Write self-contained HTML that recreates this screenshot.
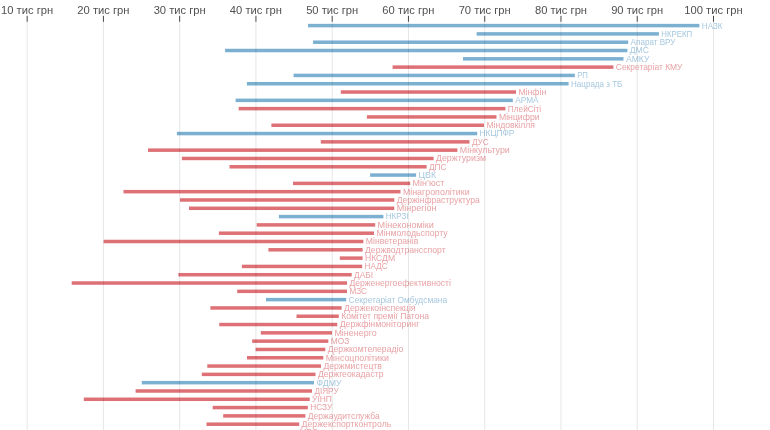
<!DOCTYPE html><html><head><meta charset="utf-8"><style>html,body{margin:0;padding:0;background:#fff;width:770px;height:430px;overflow:hidden}svg{display:block;will-change:transform}text{font-family:"Liberation Sans",sans-serif}</style></head><body>
<svg width="770" height="430" viewBox="0 0 770 430">
<rect x="308.0" y="23.85" width="391.4" height="3.5" fill="#7cb0d1"/>
<text x="701.8" y="28.50" font-size="9.2" textLength="20.7" lengthAdjust="spacingAndGlyphs" fill="#a6c8df">НАЗК</text>
<rect x="476.6" y="32.15" width="182.3" height="3.5" fill="#7cb0d1"/>
<text x="661.3" y="36.80" font-size="9.2" textLength="30.9" lengthAdjust="spacingAndGlyphs" fill="#a6c8df">НКРЕКП</text>
<rect x="313.1" y="40.46" width="315.1" height="3.5" fill="#7cb0d1"/>
<text x="630.6" y="45.11" font-size="9.2" textLength="44.9" lengthAdjust="spacingAndGlyphs" fill="#a6c8df">Апарат ВРУ</text>
<rect x="225.1" y="48.76" width="402.3" height="3.5" fill="#7cb0d1"/>
<text x="629.8" y="53.41" font-size="9.2" textLength="19.2" lengthAdjust="spacingAndGlyphs" fill="#a6c8df">ДМС</text>
<rect x="463.0" y="57.07" width="160.5" height="3.5" fill="#7cb0d1"/>
<text x="625.9" y="61.72" font-size="9.2" textLength="23.5" lengthAdjust="spacingAndGlyphs" fill="#a6c8df">АМКУ</text>
<rect x="392.6" y="65.37" width="220.8" height="3.5" fill="#de7176"/>
<text x="615.8" y="70.02" font-size="9.2" textLength="66.7" lengthAdjust="spacingAndGlyphs" fill="#e8a2a5">Секретаріат КМУ</text>
<rect x="293.6" y="73.67" width="281.2" height="3.5" fill="#7cb0d1"/>
<text x="577.2" y="78.32" font-size="9.2" textLength="10.7" lengthAdjust="spacingAndGlyphs" fill="#a6c8df">РП</text>
<rect x="246.9" y="81.98" width="321.7" height="3.5" fill="#7cb0d1"/>
<text x="571.0" y="86.63" font-size="9.2" textLength="51.4" lengthAdjust="spacingAndGlyphs" fill="#a6c8df">Нацрада з ТБ</text>
<rect x="340.8" y="90.28" width="175.2" height="3.5" fill="#de7176"/>
<text x="518.4" y="94.93" font-size="9.2" textLength="27.8" lengthAdjust="spacingAndGlyphs" fill="#e8a2a5">Мінфін</text>
<rect x="235.6" y="98.59" width="277.2" height="3.5" fill="#7cb0d1"/>
<text x="515.2" y="103.24" font-size="9.2" textLength="23.4" lengthAdjust="spacingAndGlyphs" fill="#a6c8df">АРМА</text>
<rect x="238.7" y="106.89" width="266.7" height="3.5" fill="#de7176"/>
<text x="507.8" y="111.54" font-size="9.2" textLength="33.4" lengthAdjust="spacingAndGlyphs" fill="#e8a2a5">ПлейСіті</text>
<rect x="366.9" y="115.19" width="129.6" height="3.5" fill="#de7176"/>
<text x="498.9" y="119.84" font-size="9.2" textLength="40.7" lengthAdjust="spacingAndGlyphs" fill="#e8a2a5">Мінцифри</text>
<rect x="271.4" y="123.50" width="212.6" height="3.5" fill="#de7176"/>
<text x="486.4" y="128.15" font-size="9.2" textLength="48.5" lengthAdjust="spacingAndGlyphs" fill="#e8a2a5">Міндовкілля</text>
<rect x="176.9" y="131.80" width="300.3" height="3.5" fill="#7cb0d1"/>
<text x="479.6" y="136.45" font-size="9.2" textLength="34.8" lengthAdjust="spacingAndGlyphs" fill="#a6c8df">НКЦПФР</text>
<rect x="320.8" y="140.11" width="148.7" height="3.5" fill="#de7176"/>
<text x="471.9" y="144.76" font-size="9.2" textLength="16.9" lengthAdjust="spacingAndGlyphs" fill="#e8a2a5">ДУС</text>
<rect x="148.0" y="148.41" width="309.4" height="3.5" fill="#de7176"/>
<text x="459.8" y="153.06" font-size="9.2" textLength="50.0" lengthAdjust="spacingAndGlyphs" fill="#e8a2a5">Мінкультури</text>
<rect x="181.9" y="156.71" width="251.7" height="3.5" fill="#de7176"/>
<text x="436.0" y="161.36" font-size="9.2" textLength="50.0" lengthAdjust="spacingAndGlyphs" fill="#e8a2a5">Держтуризм</text>
<rect x="229.5" y="165.02" width="197.1" height="3.5" fill="#de7176"/>
<text x="429.0" y="169.67" font-size="9.2" textLength="17.6" lengthAdjust="spacingAndGlyphs" fill="#e8a2a5">ДПС</text>
<rect x="370.1" y="173.32" width="46.0" height="3.5" fill="#7cb0d1"/>
<text x="418.5" y="177.97" font-size="9.2" textLength="17.6" lengthAdjust="spacingAndGlyphs" fill="#a6c8df">ЦВК</text>
<rect x="293.0" y="181.63" width="117.2" height="3.5" fill="#de7176"/>
<text x="412.6" y="186.28" font-size="9.2" textLength="31.7" lengthAdjust="spacingAndGlyphs" fill="#e8a2a5">Мін’юст</text>
<rect x="123.5" y="189.93" width="277.0" height="3.5" fill="#de7176"/>
<text x="402.9" y="194.58" font-size="9.2" textLength="66.7" lengthAdjust="spacingAndGlyphs" fill="#e8a2a5">Мінагрополітики</text>
<rect x="180.0" y="198.23" width="214.3" height="3.5" fill="#de7176"/>
<text x="396.7" y="202.88" font-size="9.2" textLength="83.1" lengthAdjust="spacingAndGlyphs" fill="#e8a2a5">Держінфраструктура</text>
<rect x="189.0" y="206.54" width="205.3" height="3.5" fill="#de7176"/>
<text x="396.7" y="211.19" font-size="9.2" textLength="39.8" lengthAdjust="spacingAndGlyphs" fill="#e8a2a5">Мінрегіон</text>
<rect x="278.9" y="214.84" width="104.5" height="3.5" fill="#7cb0d1"/>
<text x="385.8" y="219.49" font-size="9.2" textLength="22.7" lengthAdjust="spacingAndGlyphs" fill="#a6c8df">НКРЗІ</text>
<rect x="256.7" y="223.15" width="118.5" height="3.5" fill="#de7176"/>
<text x="377.6" y="227.80" font-size="9.2" textLength="56.3" lengthAdjust="spacingAndGlyphs" fill="#e8a2a5">Мінекономіки</text>
<rect x="218.9" y="231.45" width="155.1" height="3.5" fill="#de7176"/>
<text x="376.4" y="236.10" font-size="9.2" textLength="71.3" lengthAdjust="spacingAndGlyphs" fill="#e8a2a5">Мінмолодьспорту</text>
<rect x="103.6" y="239.75" width="259.8" height="3.5" fill="#de7176"/>
<text x="365.8" y="244.40" font-size="9.2" textLength="52.5" lengthAdjust="spacingAndGlyphs" fill="#e8a2a5">Мінветеранів</text>
<rect x="268.4" y="248.06" width="94.2" height="3.5" fill="#de7176"/>
<text x="365.0" y="252.71" font-size="9.2" textLength="80.6" lengthAdjust="spacingAndGlyphs" fill="#e8a2a5">Держводтрансспорт</text>
<rect x="339.8" y="256.36" width="22.8" height="3.5" fill="#de7176"/>
<text x="365.0" y="261.01" font-size="9.2" textLength="30.1" lengthAdjust="spacingAndGlyphs" fill="#e8a2a5">НКСДМ</text>
<rect x="241.9" y="264.67" width="120.3" height="3.5" fill="#de7176"/>
<text x="364.6" y="269.32" font-size="9.2" textLength="22.9" lengthAdjust="spacingAndGlyphs" fill="#e8a2a5">НАДС</text>
<rect x="178.4" y="272.97" width="173.3" height="3.5" fill="#de7176"/>
<text x="354.1" y="277.62" font-size="9.2" textLength="18.9" lengthAdjust="spacingAndGlyphs" fill="#e8a2a5">ДАБІ</text>
<rect x="71.7" y="281.27" width="275.3" height="3.5" fill="#de7176"/>
<text x="349.4" y="285.92" font-size="9.2" textLength="101.5" lengthAdjust="spacingAndGlyphs" fill="#e8a2a5">Держенергоефективності</text>
<rect x="237.2" y="289.58" width="109.8" height="3.5" fill="#de7176"/>
<text x="349.4" y="294.23" font-size="9.2" textLength="17.5" lengthAdjust="spacingAndGlyphs" fill="#e8a2a5">МЗС</text>
<rect x="266.0" y="297.88" width="80.2" height="3.5" fill="#7cb0d1"/>
<text x="348.6" y="302.53" font-size="9.2" textLength="98.5" lengthAdjust="spacingAndGlyphs" fill="#a6c8df">Секретаріат Омбудсмана</text>
<rect x="210.4" y="306.19" width="131.2" height="3.5" fill="#de7176"/>
<text x="344.0" y="310.84" font-size="9.2" textLength="71.6" lengthAdjust="spacingAndGlyphs" fill="#e8a2a5">Держекоінспекція</text>
<rect x="296.5" y="314.49" width="42.3" height="3.5" fill="#de7176"/>
<text x="341.2" y="319.14" font-size="9.2" textLength="87.8" lengthAdjust="spacingAndGlyphs" fill="#e8a2a5">Комітет премії Патона</text>
<rect x="219.3" y="322.79" width="118.0" height="3.5" fill="#de7176"/>
<text x="339.7" y="327.44" font-size="9.2" textLength="79.7" lengthAdjust="spacingAndGlyphs" fill="#e8a2a5">Держфінмоніторинг</text>
<rect x="260.8" y="331.10" width="71.2" height="3.5" fill="#de7176"/>
<text x="334.4" y="335.75" font-size="9.2" textLength="42.3" lengthAdjust="spacingAndGlyphs" fill="#e8a2a5">Міненерго</text>
<rect x="252.2" y="339.40" width="76.1" height="3.5" fill="#de7176"/>
<text x="330.7" y="344.05" font-size="9.2" textLength="18.6" lengthAdjust="spacingAndGlyphs" fill="#e8a2a5">МОЗ</text>
<rect x="255.6" y="347.71" width="69.7" height="3.5" fill="#de7176"/>
<text x="327.7" y="352.36" font-size="9.2" textLength="75.6" lengthAdjust="spacingAndGlyphs" fill="#e8a2a5">Держкомтелерадіо</text>
<rect x="247.0" y="356.01" width="76.3" height="3.5" fill="#de7176"/>
<text x="325.7" y="360.66" font-size="9.2" textLength="63.2" lengthAdjust="spacingAndGlyphs" fill="#e8a2a5">Мінсоцполітики</text>
<rect x="207.3" y="364.31" width="113.7" height="3.5" fill="#de7176"/>
<text x="323.4" y="368.96" font-size="9.2" textLength="58.5" lengthAdjust="spacingAndGlyphs" fill="#e8a2a5">Держмистецтв</text>
<rect x="201.8" y="372.62" width="113.7" height="3.5" fill="#de7176"/>
<text x="317.9" y="377.27" font-size="9.2" textLength="65.6" lengthAdjust="spacingAndGlyphs" fill="#e8a2a5">Держгеокадастр</text>
<rect x="141.8" y="380.92" width="172.2" height="3.5" fill="#7cb0d1"/>
<text x="316.4" y="385.57" font-size="9.2" textLength="25.1" lengthAdjust="spacingAndGlyphs" fill="#a6c8df">ФДМУ</text>
<rect x="135.6" y="389.23" width="176.4" height="3.5" fill="#de7176"/>
<text x="314.4" y="393.88" font-size="9.2" textLength="24.2" lengthAdjust="spacingAndGlyphs" fill="#e8a2a5">ДІЯРУ</text>
<rect x="83.8" y="397.53" width="225.9" height="3.5" fill="#de7176"/>
<text x="312.1" y="402.18" font-size="9.2" textLength="19.8" lengthAdjust="spacingAndGlyphs" fill="#e8a2a5">УІНП</text>
<rect x="212.7" y="405.83" width="95.1" height="3.5" fill="#de7176"/>
<text x="310.2" y="410.48" font-size="9.2" textLength="22.0" lengthAdjust="spacingAndGlyphs" fill="#e8a2a5">НСЗУ</text>
<rect x="223.2" y="414.14" width="82.2" height="3.5" fill="#de7176"/>
<text x="307.8" y="418.79" font-size="9.2" textLength="71.9" lengthAdjust="spacingAndGlyphs" fill="#e8a2a5">Держаудитслужба</text>
<rect x="206.5" y="422.44" width="92.7" height="3.5" fill="#de7176"/>
<text x="301.6" y="427.09" font-size="9.2" textLength="89.7" lengthAdjust="spacingAndGlyphs" fill="#e8a2a5">Держекспортконтроль</text>
<rect x="280.0" y="430.75" width="17.0" height="3.5" fill="#de7176"/>
<text x="299.4" y="435.40" font-size="9.2" textLength="18.7" lengthAdjust="spacingAndGlyphs" fill="#e8a2a5">МВС</text>
<line x1="27.15" y1="21.8" x2="27.15" y2="430" stroke="#000" stroke-opacity="0.1" stroke-width="1"/>
<line x1="27.15" y1="15.8" x2="27.15" y2="21.8" stroke="#444" stroke-width="1"/>
<text x="27.1" y="13.8" font-size="11.2" fill="#505050" text-anchor="middle">10 тис грн</text>
<line x1="103.41" y1="21.8" x2="103.41" y2="430" stroke="#000" stroke-opacity="0.1" stroke-width="1"/>
<line x1="103.41" y1="15.8" x2="103.41" y2="21.8" stroke="#444" stroke-width="1"/>
<text x="103.4" y="13.8" font-size="11.2" fill="#505050" text-anchor="middle">20 тис грн</text>
<line x1="179.67" y1="21.8" x2="179.67" y2="430" stroke="#000" stroke-opacity="0.1" stroke-width="1"/>
<line x1="179.67" y1="15.8" x2="179.67" y2="21.8" stroke="#444" stroke-width="1"/>
<text x="179.7" y="13.8" font-size="11.2" fill="#505050" text-anchor="middle">30 тис грн</text>
<line x1="255.93" y1="21.8" x2="255.93" y2="430" stroke="#000" stroke-opacity="0.1" stroke-width="1"/>
<line x1="255.93" y1="15.8" x2="255.93" y2="21.8" stroke="#444" stroke-width="1"/>
<text x="255.9" y="13.8" font-size="11.2" fill="#505050" text-anchor="middle">40 тис грн</text>
<line x1="332.19" y1="21.8" x2="332.19" y2="430" stroke="#000" stroke-opacity="0.1" stroke-width="1"/>
<line x1="332.19" y1="15.8" x2="332.19" y2="21.8" stroke="#444" stroke-width="1"/>
<text x="332.2" y="13.8" font-size="11.2" fill="#505050" text-anchor="middle">50 тис грн</text>
<line x1="408.45" y1="21.8" x2="408.45" y2="430" stroke="#000" stroke-opacity="0.1" stroke-width="1"/>
<line x1="408.45" y1="15.8" x2="408.45" y2="21.8" stroke="#444" stroke-width="1"/>
<text x="408.4" y="13.8" font-size="11.2" fill="#505050" text-anchor="middle">60 тис грн</text>
<line x1="484.71" y1="21.8" x2="484.71" y2="430" stroke="#000" stroke-opacity="0.1" stroke-width="1"/>
<line x1="484.71" y1="15.8" x2="484.71" y2="21.8" stroke="#444" stroke-width="1"/>
<text x="484.7" y="13.8" font-size="11.2" fill="#505050" text-anchor="middle">70 тис грн</text>
<line x1="560.97" y1="21.8" x2="560.97" y2="430" stroke="#000" stroke-opacity="0.1" stroke-width="1"/>
<line x1="560.97" y1="15.8" x2="560.97" y2="21.8" stroke="#444" stroke-width="1"/>
<text x="561.0" y="13.8" font-size="11.2" fill="#505050" text-anchor="middle">80 тис грн</text>
<line x1="637.23" y1="21.8" x2="637.23" y2="430" stroke="#000" stroke-opacity="0.1" stroke-width="1"/>
<line x1="637.23" y1="15.8" x2="637.23" y2="21.8" stroke="#444" stroke-width="1"/>
<text x="637.2" y="13.8" font-size="11.2" fill="#505050" text-anchor="middle">90 тис грн</text>
<line x1="713.49" y1="21.8" x2="713.49" y2="430" stroke="#000" stroke-opacity="0.1" stroke-width="1"/>
<line x1="713.49" y1="15.8" x2="713.49" y2="21.8" stroke="#444" stroke-width="1"/>
<text x="713.5" y="13.8" font-size="11.2" fill="#505050" text-anchor="middle">100 тис грн</text>
</svg></body></html>
